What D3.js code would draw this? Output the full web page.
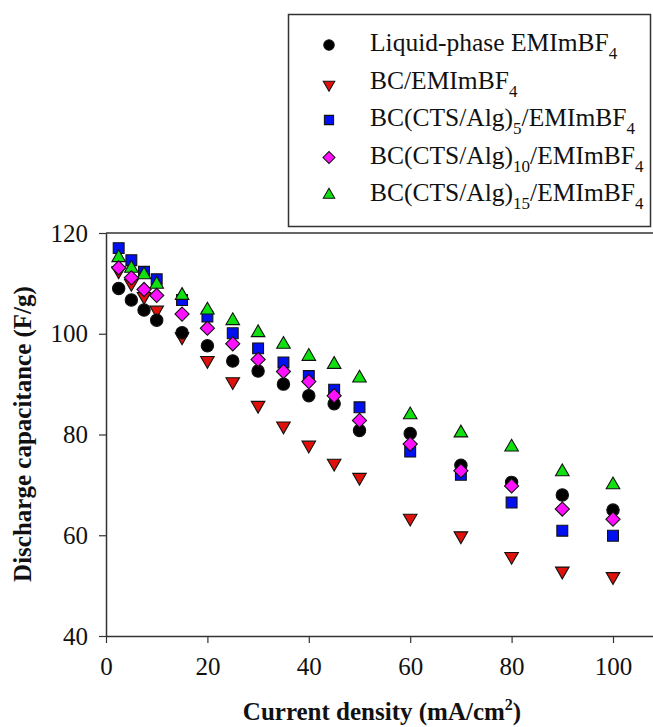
<!DOCTYPE html>
<html>
<head>
<meta charset="utf-8">
<script src="https://cdn.jsdelivr.net/npm/d3@7"></script>
<style>
  html, body { margin: 0; padding: 0; background: #fff; }
  svg { display: block; }
  text { font-family: "Liberation Serif", "Times New Roman", serif; fill: #111; }
</style>
</head>
<body>
<svg id="chart" width="653" height="727"></svg>
<script>
// Current density (mA/cm^2)
const currentDensity = [2.5, 5, 7.5, 10, 15, 20, 25, 30, 35, 40, 45, 50, 60, 70, 80, 90, 100];

// Discharge capacitance (F/g) for each electrolyte
const liquidPhase = [109.0, 106.7, 104.7, 102.7, 100.2, 97.6, 94.6, 92.6, 90.0, 87.7, 86.1, 80.8, 80.2, 73.9, 70.5, 68.0, 65.0];
const bcOnly      = [112.5, 110.0, 107.4, 104.7, 99.4, 94.7, 90.5, 85.8, 81.7, 77.9, 74.3, 71.5, 63.4, 59.9, 55.8, 52.9, 51.8];
const bcCtsAlg5   = [117.0, 114.6, 112.3, 110.8, 106.7, 103.4, 100.1, 97.1, 94.3, 91.6, 88.9, 85.4, 76.6, 72.0, 66.5, 60.9, 59.9];
const bcCtsAlg10  = [113.1, 111.1, 108.8, 107.6, 103.9, 101.1, 98.0, 94.9, 92.5, 90.5, 87.7, 82.8, 78.1, 72.8, 69.8, 65.2, 63.2];
const bcCtsAlg15  = [115.1, 113.0, 111.7, 109.8, 107.6, 104.7, 102.6, 100.2, 97.9, 95.5, 93.9, 91.2, 83.9, 80.3, 77.5, 72.6, 70.0];

const xTicks = [0, 20, 40, 60, 80, 100];
const yTicks = [40, 60, 80, 100, 120];

// Series definitions: label parts as [text, subscript] pairs, marker and colour
const series = [
  { key: "liquid", values: liquidPhase, label: [["Liquid-phase EMImBF", "4"]], shape: "circle", fill: "#000000" },
  { key: "bc", values: bcOnly, label: [["BC/EMImBF", "4"]], shape: "triangleDown", fill: "#e0100a" },
  { key: "a5", values: bcCtsAlg5, label: [["BC(CTS/Alg)", "5"], ["/EMImBF", "4"]], shape: "square", fill: "#0010f0" },
  { key: "a10", values: bcCtsAlg10, label: [["BC(CTS/Alg)", "10"], ["/EMImBF", "4"]], shape: "diamond", fill: "#ff10ff" },
  { key: "a15", values: bcCtsAlg15, label: [["BC(CTS/Alg)", "15"], ["/EMImBF", "4"]], shape: "triangleUp", fill: "#10e010" }
];

// drawing order of the point layers
const drawOrder = ["bc", "liquid", "a5", "a15", "a10"];

const svg = d3.select("#chart");
const margin = { left: 106, top: 233, bottom: 636 };

const x = d3.scaleLinear().domain([0, 110]).range([margin.left, margin.left + 110 * 5.07]);
const y = d3.scaleLinear().domain([40, 120]).range([margin.bottom, margin.top]);

const axisColor = "#333";

// frame top line
svg.append("line")
  .attr("x1", x(0)).attr("x2", 660)
  .attr("y1", y(120)).attr("y2", y(120))
  .attr("stroke", axisColor).attr("stroke-width", 1.5);

// x axis
const xAxis = svg.append("g")
  .attr("transform", `translate(0,${y(40)})`)
  .call(d3.axisBottom(x).tickValues(xTicks).tickSize(7).tickPadding(14).tickSizeOuter(0));
xAxis.select(".domain").attr("stroke", axisColor).attr("stroke-width", 1.5);
xAxis.selectAll(".tick line").attr("stroke", axisColor).attr("stroke-width", 1.2);
xAxis.selectAll(".tick text")
  .attr("font-family", "Liberation Serif, serif").attr("font-size", 25).attr("fill", "#111");

// y axis
const yAxis = svg.append("g")
  .attr("transform", `translate(${x(0)},0)`)
  .call(d3.axisLeft(y).tickValues(yTicks).tickSize(7).tickPadding(11).tickSizeOuter(0));
yAxis.select(".domain").attr("stroke", axisColor).attr("stroke-width", 1.5);
yAxis.selectAll(".tick line").attr("stroke", axisColor).attr("stroke-width", 1.2);
yAxis.selectAll(".tick text")
  .attr("font-family", "Liberation Serif, serif").attr("font-size", 25).attr("fill", "#111");

// axis titles
const xTitle = svg.append("text")
  .attr("x", 382).attr("y", 720)
  .attr("text-anchor", "middle")
  .attr("font-size", 25).attr("font-weight", "bold");
xTitle.append("tspan").text("Current density (mA/cm");
xTitle.append("tspan").attr("font-size", 16).attr("dy", -10).text("2");
xTitle.append("tspan").attr("dy", 10).text(")");

svg.append("text")
  .attr("transform", `translate(31,434) rotate(-90)`)
  .attr("text-anchor", "middle")
  .attr("font-size", 25).attr("font-weight", "bold")
  .text("Discharge capacitance (F/g)");

// marker generator
function markerPath(shape) {
  switch (shape) {
    case "circle": return d3.symbol().type(d3.symbolCircle).size(120)();
    case "square": return d3.symbol().type(d3.symbolSquare).size(118)();
    case "diamond": return d3.symbol().type(d3.symbolSquare).size(100)();
    default: return d3.symbol().type(d3.symbolTriangle).size(80)();
  }
}
function markerRotation(shape) {
  if (shape === "diamond") return 45;
  if (shape === "triangleDown") return 180;
  return 0;
}

const plot = svg.append("g");
drawOrder.forEach(k => {
  const s = series.find(d => d.key === k);
  plot.append("g").selectAll("path")
    .data(currentDensity.map((c, i) => ({ c, v: s.values[i] })))
    .join("path")
    .attr("d", markerPath(s.shape))
    .attr("transform", d => `translate(${x(d.c)},${y(d.v)}) rotate(${markerRotation(s.shape)})`)
    .attr("fill", s.fill)
    .attr("stroke", "#111")
    .attr("stroke-width", 1.1);
});

// legend
const legend = svg.append("g");
legend.append("rect")
  .attr("x", 288.5).attr("y", 14.5).attr("width", 362).attr("height", 212)
  .attr("fill", "#fff").attr("stroke", axisColor).attr("stroke-width", 1.5);

const legendY = d3.scalePoint().domain(series.map(d => d.key)).range([45, 195]);
const subShift = 8;
series.forEach(s => {
  const cy = legendY(s.key);
  legend.append("path")
    .attr("d", markerPath(s.shape))
    .attr("transform", `translate(329,${cy + (s.shape === "triangleDown" ? 2 : 0)}) rotate(${markerRotation(s.shape)}) scale(0.85)`)
    .attr("fill", s.fill).attr("stroke", "#111").attr("stroke-width", 1.2);
  const t = legend.append("text")
    .attr("x", 370).attr("y", cy + 6)
    .attr("font-size", 25.5);
  s.label.forEach(([main, sub], i) => {
    t.append("tspan").attr("dy", i === 0 ? 0 : -subShift).text(main);
    t.append("tspan").attr("font-size", 17).attr("dy", subShift).text(sub);
  });
});
</script>
</body>
</html>
